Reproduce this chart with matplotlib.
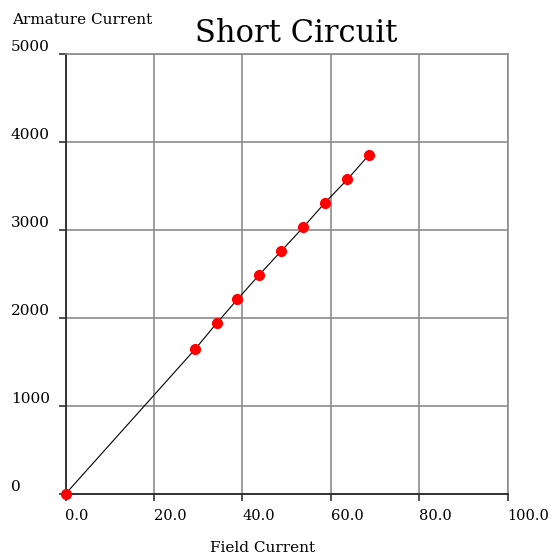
import matplotlib
matplotlib.use("Agg")
import matplotlib.pyplot as plt

# Short circuit test readings
field_current = [0.0, 29.3, 34.3, 38.9, 43.8, 48.8, 53.8, 58.7, 63.8, 68.7]
armature_current = [0, 1644, 1947, 2212, 2489, 2761, 3031, 3310, 3576, 3856]

x_ticks = [0, 20, 40, 60, 80, 100]
y_ticks = [0, 1000, 2000, 3000, 4000, 5000]

FONT = "DejaVu Serif"
GRID = "#8c8c8c"

fig = plt.figure(figsize=(5.51, 5.57), dpi=100, facecolor="white")
W, H = 551, 557
ax = fig.add_axes([65.5 / W, 1 - 494 / H, (507.5 - 65.5) / W, (494 - 54) / H])

ax.plot(field_current, armature_current, color="black", lw=0.8,
        marker="o", markersize=7, markerfacecolor="red", markeredgecolor="red",
        zorder=3, clip_on=False)

ax.set_xlim(0, 100)
ax.set_ylim(0, 5000)
ax.set_xticks(x_ticks)
ax.set_yticks(y_ticks)
ax.set_xticklabels([f"{v:.1f}" for v in x_ticks], family=FONT, fontsize=10.5, ha="left")
ax.set_yticklabels([str(v) for v in y_ticks], family=FONT, fontsize=11, ha="left", va="bottom")

ax.grid(True, color=GRID, lw=1.2)
ax.tick_params(axis="x", direction="out", length=5, width=1.2, color="#333333", pad=6)
ax.tick_params(axis="y", direction="out", length=5, width=1.2, color="#333333", pad=34.5)

for side in ("top", "right"):
    ax.spines[side].set_color(GRID)
    ax.spines[side].set_linewidth(1.2)
for side in ("left", "bottom"):
    ax.spines[side].set_color("#333333")
    ax.spines[side].set_linewidth(1.4)

fig.text(296.5 / W, 1 - 41.5 / H, "Short Circuit", family=FONT, fontsize=22,
         ha="center", va="baseline")
fig.text(12 / W, 1 - 24 / H, "Armature Current", family=FONT, fontsize=11,
         ha="left", va="baseline")
fig.text(263 / W, 1 - 552 / H, "Field Current", family=FONT, fontsize=11,
         ha="center", va="baseline")

fig.savefig("out.png", dpi=100, facecolor="white")
